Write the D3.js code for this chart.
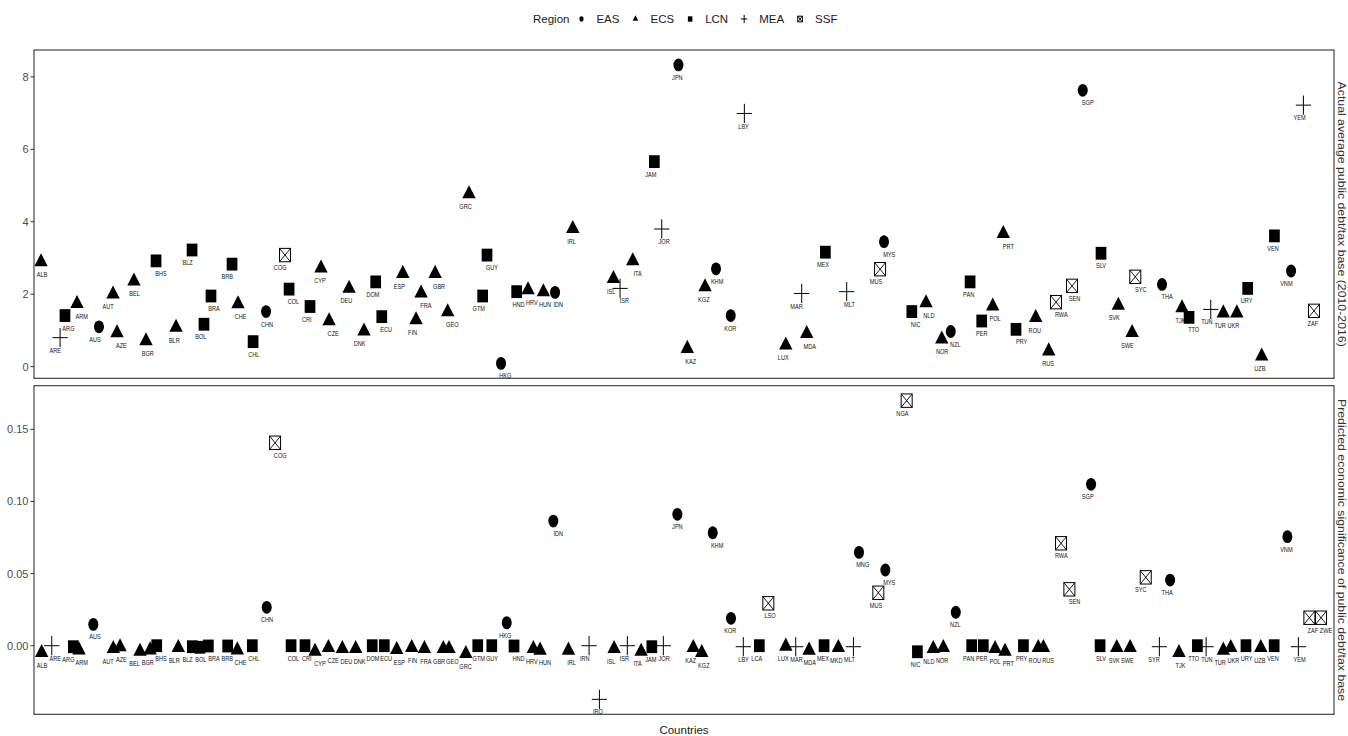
<!DOCTYPE html>
<html>
<head>
<meta charset="utf-8">
<script src="https://cdn.jsdelivr.net/npm/d3@7"></script>
<style>
  html, body { margin: 0; padding: 0; background: #fff; }
  svg { display: block; font-family: "Liberation Sans", Arial, sans-serif; }
</style>
</head>
<body>
<svg id="chart" width="1348" height="736"></svg>
<script>
// ---- data -------------------------------------------------------------
const countries = [
  "ALB","ARE","ARG","ARM","AUS","AUT","AZE","BEL","BGR","BHS",
  "BLR","BLZ","BOL","BRA","BRB","CHE","CHL","CHN","COG","COL",
  "CRI","CYP","CZE","DEU","DNK","DOM","ECU","ESP","FIN","FRA",
  "GBR","GEO","GRC","GTM","GUY","HKG","HND","HRV","HUN","IDN",
  "IRL","IRN","IRQ","ISL","ISR","ITA","JAM","JOR","JPN","KAZ",
  "KGZ","KHM","KOR","LBY","LCA","LSO","LUX","MAR","MDA","MEX",
  "MKD","MLT","MNG","MUS","MYS","NGA","NIC","NLD","NOR","NZL",
  "PAN","PER","POL","PRT","PRY","ROU","RUS","RWA","SEN","SGP",
  "SLV","SVK","SWE","SYC","SYR","THA","TJK","TTO","TUN","TUR",
  "UKR","URY","UZB","VEN","VNM","YEM","ZAF","ZWE"
];

const regions = [
  "ECS","MEA","LCN","ECS","EAS","ECS","ECS","ECS","ECS","LCN",
  "ECS","LCN","LCN","LCN","LCN","ECS","LCN","EAS","SSF","LCN",
  "LCN","ECS","ECS","ECS","ECS","LCN","LCN","ECS","ECS","ECS",
  "ECS","ECS","ECS","LCN","LCN","EAS","LCN","ECS","ECS","EAS",
  "ECS","MEA","MEA","ECS","MEA","ECS","LCN","MEA","EAS","ECS",
  "ECS","EAS","EAS","MEA","LCN","SSF","ECS","MEA","ECS","LCN",
  "ECS","MEA","EAS","SSF","EAS","SSF","LCN","ECS","ECS","EAS",
  "LCN","LCN","ECS","ECS","LCN","ECS","ECS","SSF","SSF","EAS",
  "LCN","ECS","ECS","SSF","MEA","EAS","ECS","LCN","MEA","ECS",
  "ECS","LCN","ECS","LCN","EAS","MEA","SSF","SSF"
];

// Actual average public debt / tax base, 2010-2016 (null = not in sample)
const actualDebt = [
  2.89, 0.80, 1.41, 1.74, 1.10, 2.00, 0.93, 2.36, 0.71, 2.92,
  1.08, 3.22, 1.17, 1.95, 2.83, 1.73, 0.69, 1.52, 3.08, 2.14,
  1.66, 2.72, 1.26, 2.16, 0.98, 2.34, 1.38, 2.57, 1.29, 2.03,
  2.57, 1.51, 4.77, 1.95, 3.08, 0.09, 2.07, 2.12, 2.06, 2.05,
  3.81, null, null, 2.43, 2.16, 2.92, 5.66, 3.80, 8.33, 0.50,
  2.20, 2.70, 1.41, 6.99, null, null, 0.59, 2.02, 0.91, 3.16,
  null, 2.07, null, 2.69, 3.45, null, 1.52, 1.76, 0.76, 0.97,
  2.34, 1.26, 1.67, 3.67, 1.03, 1.35, 0.43, 1.78, 2.23, 7.63,
  3.13, 1.69, 0.94, 2.48, null, 2.27, 1.62, 1.36, 1.58, 1.48,
  1.48, 2.16, 0.29, 3.61, 2.64, 7.22, 1.54, null
];

// horizontal jitter of each point, in category units
const actualJitter = [
  -0.07, 0.37, -0.26, -0.35, 0.31, 0.37, -0.33, -0.05, -0.14, -0.38,
  0.13, 0.34, 0.24, -0.23, 0.36, -0.19, -0.05, -0.07, 0.36, -0.33,
  0.25, 0.08, -0.31, 0.20, 0.33, 0.21, -0.33, 0.26, 0.26, -0.36,
  -0.30, -0.35, 0.26, 0.29, -0.38, -0.32, -0.14, -0.28, -0.12, -0.24,
  0.10, 0, 0, 0.17, -0.33, -0.37, 0.26, -0.18, 0.08, -0.25,
  0.09, -0.08, 0.03, 0.06, 0, 0, 0.19, 0.39, -0.23, 0.18,
  0, -0.21, 0, 0.31, -0.39, 0, -0.29, -0.22, -0.03, -0.35,
  0.11, -0.01, -0.18, -0.38, -0.42, 0.07, 0.05, -0.40, -0.19, -0.38,
  0.00, 0.31, 0.35, -0.41, 0, -0.39, 0.12, -0.35, 0.29, 0.24,
  0.26, 0.08, 0.14, 0.10, 0.36, 0.29, 0.09, 0
];

// Predicted economic significance of public debt / tax base
const predictedSig = [
  -0.0049, 0.0000, -0.0007, -0.0030, 0.0148, -0.0021, -0.0009, -0.0039, -0.0030, 0.0000,
  -0.0014, -0.0007, -0.0011, -0.0002, -0.0002, -0.0030, 0.0000, 0.0266, 0.1407, 0.0000,
  0.0000, -0.0039, -0.0014, -0.0021, -0.0021, 0.0000, 0.0000, -0.0028, -0.0014, -0.0021,
  -0.0021, -0.0021, -0.0055, 0.0000, 0.0000, 0.0159, -0.0002, -0.0021, -0.0032, 0.0864,
  -0.0032, 0.0000, -0.0372, -0.0021, 0.0000, -0.0039, -0.0007, 0.0000, 0.0911, -0.0014,
  -0.0049, 0.0783, 0.0190, -0.0007, 0.0000, 0.0294, -0.0004, -0.0007, -0.0032, 0.0000,
  -0.0014, -0.0007, 0.0647, 0.0367, 0.0525, 0.1699, -0.0042, -0.0021, -0.0014, 0.0232,
  0.0000, 0.0000, -0.0021, -0.0039, 0.0000, -0.0014, -0.0014, 0.0710, 0.0391, 0.1119,
  0.0000, -0.0014, -0.0014, 0.0474, -0.0007, 0.0455, -0.0049, 0.0000, -0.0007, -0.0032,
  -0.0014, 0.0000, -0.0014, 0.0000, 0.0756, -0.0007, 0.0194, 0.0194
];

const predictedJitter = [
  -0.02, -0.26, 0.37, -0.20, -0.12, 0.39, -0.10, 0.41, 0.17, -0.33,
  0.30, 0.36, -0.06, -0.43, 0.03, -0.24, -0.11, -0.02, -0.39, -0.18,
  -0.13, -0.37, -0.36, -0.31, -0.30, -0.05, -0.14, -0.20, -0.07, -0.11,
  0.32, -0.25, 0.02, -0.08, -0.02, 0.11, -0.34, 0.12, -0.37, -0.37,
  -0.23, 0.33, 0.11, 0.22, 0.22, 0.26, 0.07, -0.06, 0.00, 0.20,
  -0.16, -0.33, 0.05, -0.02, 0.19, -0.13, 0.19, -0.06, -0.05, 0.08,
  0.16, 0.30, -0.28, 0.18, -0.29, 0.32, 0.13, 0.33, 0.09, 0.03,
  0.23, 0.11, 0.00, -0.25, 0.14, 0.26, -0.35, -0.02, -0.39, 0.25,
  -0.07, 0.19, 0.20, 0.38, 0.41, 0.22, -0.11, 0.28, -0.06, 0.24,
  -0.20, -0.05, 0.07, 0.08, 0.08, -0.09, -0.26, -0.38
];

const regionNames = ["EAS", "ECS", "LCN", "MEA", "SSF"];
const actualTicks = [0, 2, 4, 6, 8];
const predictedTicks = [0, 0.05, 0.10, 0.15];
const panelTitles = [
  "Actual average public debt/tax base (2010-2016)",
  "Predicted economic significance of public debt/tax base"
];
const xTitle = "Countries";
const legendTitle = "Region";

// ---- layout -----------------------------------------------------------
const svg = d3.select("#chart");
const plotLeft = 34, plotRight = 1334;
const textColor = "#1a1a1a", tickColor = "#4d4d4d", borderColor = "#333";

const x = d3.scalePoint().domain(countries).range([plotLeft, plotRight]).padding(0.6);

const panels = [
  { values: actualDebt, jitter: actualJitter, ticks: actualTicks, fmt: d3.format("d"),
    title: panelTitles[0], top: 50, bottom: 378.3 },
  { values: predictedSig, jitter: predictedJitter, ticks: predictedTicks, fmt: d3.format(".2f"),
    title: panelTitles[1], top: 385.7, bottom: 714.3 }
];

// shape per region: filled circle, filled triangle, filled square, plus, boxed cross
function addSymbol(g, region, k) {
  switch (region) {
    case "EAS":
      g.append("ellipse").attr("rx", 5 * k).attr("ry", 6.4 * k).attr("fill", "#000");
      break;
    case "ECS":
      g.append("path")
        .attr("d", `M0,${-8.7 * k}L${6.7 * k},${4.35 * k}L${-6.7 * k},${4.35 * k}Z`)
        .attr("fill", "#000");
      break;
    case "LCN":
      g.append("rect").attr("x", -5.35 * k).attr("y", -6.4 * k)
        .attr("width", 10.7 * k).attr("height", 12.8 * k).attr("fill", "#000");
      break;
    case "MEA":
      g.append("path")
        .attr("d", `M${-7.6 * k},0H${7.6 * k}M0,${-9.6 * k}V${9.6 * k}`)
        .attr("stroke", "#000").attr("stroke-width", 1).attr("fill", "none");
      break;
    case "SSF": {
      const w = 5.5 * k, h = 6.7 * k;
      g.append("rect").attr("x", -w).attr("y", -h).attr("width", 2 * w).attr("height", 2 * h)
        .attr("fill", "#fff").attr("stroke", "#000").attr("stroke-width", 1);
      g.append("path").attr("d", `M${-w},${-h}L${w},${h}M${w},${-h}L${-w},${h}`)
        .attr("stroke", "#000").attr("stroke-width", 0.9).attr("fill", "none");
      break;
    }
  }
}

panels.forEach((p, pi) => {
  const rows = countries
    .map((c, i) => ({ country: c, region: regions[i], value: p.values[i], jitter: p.jitter[i] }))
    .filter(d => d.value !== null);

  // continuous scale with 5% expansion on each side
  const [lo, hi] = d3.extent(rows, d => d.value);
  const pad = (hi - lo) * 0.05;
  const y = d3.scaleLinear().domain([lo - pad, hi + pad]).range([p.bottom, p.top]);

  const clipId = "panel-clip-" + pi;
  svg.append("clipPath").attr("id", clipId)
    .append("rect").attr("x", plotLeft).attr("y", p.top)
    .attr("width", plotRight - plotLeft).attr("height", p.bottom - p.top);

  svg.append("rect").attr("x", plotLeft).attr("y", p.top)
    .attr("width", plotRight - plotLeft).attr("height", p.bottom - p.top)
    .attr("fill", "#fff");

  const body = svg.append("g").attr("clip-path", `url(#${clipId})`);

  // points (jittered horizontally)
  body.selectAll("g.pt").data(rows).join("g")
    .attr("class", "pt")
    .attr("transform", d => `translate(${x(d.country) + d.jitter * x.step()},${y(d.value)})`)
    .each(function (d) { addSymbol(d3.select(this), d.region, 1); });

  // country codes beneath each point
  body.selectAll("text.lbl").data(rows).join("text")
    .attr("class", "lbl")
    .attr("transform", d => `translate(${x(d.country)},${y(d.value) + 12.3}) scale(0.8,1)`)
    .attr("text-anchor", "middle")
    .attr("dominant-baseline", "central")
    .attr("font-size", 7)
    .attr("fill", "#111")
    .text(d => d.country);

  // panel border
  svg.append("rect").attr("x", plotLeft).attr("y", p.top)
    .attr("width", plotRight - plotLeft).attr("height", p.bottom - p.top)
    .attr("fill", "none").attr("stroke", borderColor).attr("stroke-width", 1.1);

  // left axis
  const axis = svg.append("g");
  axis.selectAll("line").data(p.ticks).join("line")
    .attr("x1", plotLeft - 3.5).attr("x2", plotLeft)
    .attr("y1", d => y(d)).attr("y2", d => y(d))
    .attr("stroke", borderColor).attr("stroke-width", 1);
  axis.selectAll("text").data(p.ticks).join("text")
    .attr("x", plotLeft - 5.5).attr("y", d => y(d))
    .attr("text-anchor", "end").attr("dominant-baseline", "central")
    .attr("font-size", 11).attr("fill", tickColor)
    .text(d => p.fmt(d));

  // strip label on the right, reading top to bottom
  svg.append("text")
    .attr("transform", `translate(${plotRight + 8},${(p.top + p.bottom) / 2}) rotate(90) scale(1.12,1)`)
    .attr("text-anchor", "middle").attr("dominant-baseline", "central")
    .attr("font-size", 11).attr("fill", "#333")
    .text(p.title);
});

// x-axis title
svg.append("text")
  .attr("x", (plotLeft + plotRight) / 2).attr("y", 730)
  .attr("text-anchor", "middle").attr("dominant-baseline", "central")
  .attr("font-size", 11.5).attr("fill", textColor)
  .text(xTitle);

// legend across the top
const legend = svg.append("g");
const legendY = 19;
let cursor = 533;
const title = legend.append("text")
  .attr("x", cursor).attr("y", legendY)
  .attr("dominant-baseline", "central").attr("font-size", 11.5).attr("fill", textColor)
  .text(legendTitle);
cursor += title.node().getComputedTextLength() + 12;
regionNames.forEach(r => {
  const key = legend.append("g").attr("transform", `translate(${cursor},${legendY})`);
  addSymbol(key, r, 0.42);
  const t = legend.append("text")
    .attr("x", cursor + 15).attr("y", legendY)
    .attr("dominant-baseline", "central").attr("font-size", 11.5).attr("fill", textColor)
    .text(r);
  cursor += 15 + t.node().getComputedTextLength() + 16;
});
</script>
</body>
</html>
